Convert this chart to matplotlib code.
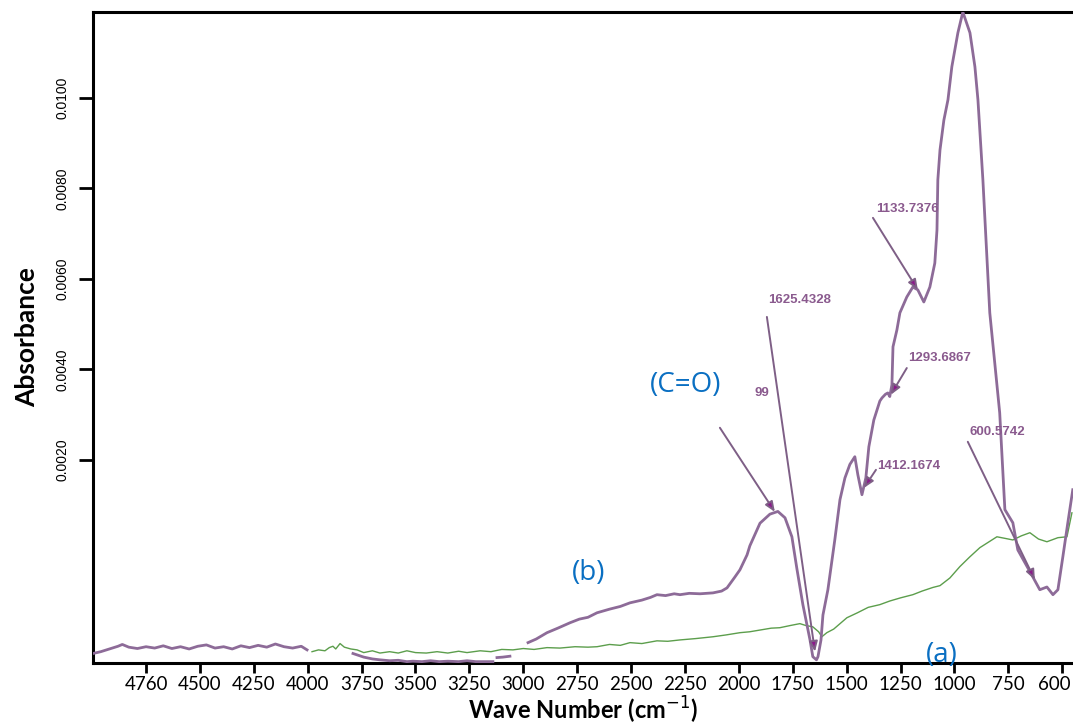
import numpy as np
import matplotlib
matplotlib.use("Agg")
import matplotlib.pyplot as plt
from matplotlib.transforms import ScaledTranslation

# spectrum (b): wave number (cm-1) / absorbance, NaN marks breaks in the trace
b_wave = [4996, 4960, 4920, 4880, 4860, 4830, 4790, 4750, 4710, 4670, 4630, 4590, 4550,
          4510, 4470, 4430, 4390, 4350, 4310, 4270, 4230, 4190, 4150, 4110, 4070, 4030, 4003,
          np.nan,
          3790, 3771, 3740, 3700, 3665, 3620, 3580, 3540, 3512, 3470, 3430, 3390, 3350, 3300,
          3261, 3220, 3180, 3141,
          np.nan,
          3122, 3095, 3062,
          np.nan,
          2978, 2940, 2890, 2840, 2783, 2740, 2700, 2658, 2600, 2550, 2505, 2450, 2410, 2380,
          2340, 2300, 2273, 2230, 2180, 2120, 2080, 2055, 2020, 1995, 1962, 1949, 1902, 1856,
          1819, 1786, 1754, 1731, 1703, 1670, 1657, 1640, 1633, 1619, 1610, 1587, 1555, 1531,
          1508, 1485, 1462, 1448, 1429, 1411, 1397, 1374, 1346, 1336, 1320, 1309, 1300, 1290,
          1285, 1267, 1253, 1221, 1193, 1170, 1142, 1114, 1091, 1081, 1077, 1067, 1049, 1030,
          1012, 984, 961, 928, 905, 891, 868, 836, 790, 766, 729, 706, 636, 604, 571, 543,
          520, 497, 474, 451]
b_abs = [-0.00228, -0.00224, -0.00218, -0.00212, -0.00208, -0.00214, -0.00217, -0.00213,
         -0.00216, -0.00211, -0.00217, -0.00213, -0.00218, -0.00212, -0.00209, -0.00216,
         -0.00213, -0.00218, -0.00211, -0.00215, -0.00210, -0.00214, -0.00207, -0.00213,
         -0.00216, -0.00212, -0.00220,
         np.nan,
         -0.00228, -0.00231, -0.00236, -0.00240, -0.00242, -0.00244, -0.00243, -0.00246,
         -0.00245, -0.00246, -0.00244, -0.00246, -0.00245, -0.00246, -0.00244, -0.00246,
         -0.00246, -0.00246,
         np.nan,
         -0.00237, -0.00236, -0.00234,
         np.nan,
         -0.00204, -0.00196, -0.00182, -0.00172, -0.00160, -0.00152, -0.00148, -0.00138,
         -0.00130, -0.00124, -0.00116, -0.00110, -0.00104, -0.00098, -0.00100, -0.00096,
         -0.00098, -0.00095, -0.00096, -0.00094, -0.00090, -0.00083, -0.00060, -0.00043,
         -0.00010, 0.00010, 0.00060, 0.00080, 0.00086, 0.00072, 0.00030, -0.00040, -0.00120,
         -0.00198, -0.00235, -0.00242, -0.00235, -0.00198, -0.00143, -0.00087, 0.00023,
         0.00112, 0.00160, 0.00190, 0.00207, 0.00167, 0.00123, 0.00160, 0.00229, 0.00288,
         0.00330, 0.00337, 0.00345, 0.00348, 0.00340, 0.00366, 0.00450, 0.00487, 0.00525,
         0.00560, 0.00582, 0.00576, 0.00549, 0.00582, 0.00635, 0.00708, 0.00819, 0.00885,
         0.00951, 0.00996, 0.01069, 0.01144, 0.01190, 0.01144, 0.01069, 0.00996, 0.00819,
         0.00525, 0.00304, 0.00090, 0.00061, 0.00001, -0.00059, -0.00087, -0.00081,
         -0.00098, -0.00087, -0.00014, 0.00061, 0.00134]

# spectrum (a)
a_wave = [3980, 3950, 3920, 3900, 3883, 3870, 3850, 3830, 3800, 3771, 3740, 3700, 3665,
          3620, 3580, 3540, 3500, 3450, 3400, 3350, 3300, 3261, 3200, 3150, 3100, 3048,
          3000, 2950, 2890, 2830, 2760, 2700, 2658, 2600, 2550, 2505, 2450, 2380, 2330,
          2273, 2200, 2120, 2060, 1995, 1950, 1900, 1850, 1810, 1760, 1717, 1690, 1657,
          1630, 1615, 1592, 1560, 1499, 1450, 1400, 1346, 1300, 1250, 1193, 1150, 1100,
          1067, 1021, 975, 930, 882, 803, 760, 729, 690, 650, 610, 571, 520, 478, 455]
a_abs = [-0.00224, -0.00220, -0.00222, -0.00215, -0.00212, -0.00218, -0.00206, -0.00214,
         -0.00218, -0.00220, -0.00226, -0.00222, -0.00227, -0.00224, -0.00227, -0.00222,
         -0.00226, -0.00227, -0.00224, -0.00227, -0.00223, -0.00226, -0.00222, -0.00224,
         -0.00219, -0.00220, -0.00217, -0.00219, -0.00215, -0.00216, -0.00213, -0.00214,
         -0.00213, -0.00208, -0.00210, -0.00204, -0.00206, -0.00200, -0.00201, -0.00198,
         -0.00195, -0.00191, -0.00187, -0.00182, -0.00180, -0.00176, -0.00172, -0.00171,
         -0.00166, -0.00162, -0.00166, -0.00169, -0.00180, -0.00191, -0.00182, -0.00174,
         -0.00149, -0.00138, -0.00126, -0.00120, -0.00112, -0.00105, -0.00098, -0.00090,
         -0.00082, -0.00078, -0.00061, -0.00036, -0.00015, 0.00006, 0.00030, 0.00026,
         0.00023, 0.00032, 0.00039, 0.00025, 0.00019, 0.00028, 0.00030, 0.00083]

# axis ticks (the published axis labels are not linear at both ends)
x_ticks = [4750, 4500, 4250, 4000, 3750, 3500, 3250, 3000, 2750, 2500, 2250, 2000,
           1750, 1500, 1250, 1000, 750, 500]
x_tick_labels = ["4760", "4500", "4250", "4000", "3750", "3500", "3250", "3000", "2750",
                 "2500", "2250", "2000", "1750", "1500", "1250", "1000", "750", "600"]
y_ticks = [0.0020, 0.0040, 0.0060, 0.0080, 0.0100]
y_tick_labels = ["0.0020", "0.0040", "0.0060", "0.0080", "0.0100"]

# peak labels: text, text position, arrow start, arrow tip
peak_labels = ["1625.4328", "1133.7376", "1293.6867", "1412.1674", "600.5742", "99"]
peak_text_xy = [(1720, 0.00554), (1218, 0.00755), (1068, 0.00425), (1210, 0.00187),
                (800, 0.00262), (1893, 0.00348)]
peak_arrow_from = [(1870, 0.00516), (1378, 0.00735), (1221, 0.00403), (1364, 0.00178),
                   (938, 0.00240), (2088, 0.00271)]
peak_arrow_to = [(1647, -0.00224), (1170, 0.00576), (1295, 0.00344), (1420, 0.00138),
                 (627, -0.00065), (1833, 0.00085)]

PURPLE = "#8d6b98"
GREEN = "#5c9e4c"
BLUE = "#0a6fc2"
LABEL = "#8a5a8e"

fig = plt.figure(figsize=(10.73, 7.25), dpi=100)
ax = fig.add_axes([93 / 1073, 62 / 725, 980 / 1073, 651 / 725])

ax.plot(b_wave, b_abs, color=PURPLE, lw=2.0, zorder=3)
ax.plot(a_wave, a_abs, color=GREEN, lw=1.0, zorder=2)

for text, txy, p0, p1 in zip(peak_labels, peak_text_xy, peak_arrow_from, peak_arrow_to):
    ax.text(txy[0], txy[1], text, color=LABEL, fontsize=9.5, fontweight="bold",
            family="Liberation Sans", ha="center", va="center")
    ax.annotate("", xy=p1, xytext=p0,
                arrowprops=dict(arrowstyle="-|>,head_length=0.6,head_width=0.25",
                                color="#7e5f86", lw=1.4, fc="#8b1a8b", shrinkA=0, shrinkB=0))

ax.text(2246, 0.00366, "(C=O)", color=BLUE, fontsize=20, ha="center", va="center",
        family="Open Sans")
ax.text(2695, -0.00050, "(b)", color=BLUE, fontsize=20, ha="center", va="center",
        family="Open Sans")
ax.text(1058, -0.00231, "(a)", color=BLUE, fontsize=20, ha="center", va="center",
        family="Open Sans")

ax.set_xlim(4996, 450)
ax.set_ylim(-0.00249, 0.0119)
ax.set_xticks(x_ticks)
ax.set_xticklabels(x_tick_labels, fontsize=13.5, family="Lato")
ax.set_yticks(y_ticks)
ax.set_yticklabels(y_tick_labels, fontsize=10, family="Liberation Sans", rotation=90,
                   va="center")
ax.tick_params(axis="x", direction="out", length=7, width=2, pad=2)
ax.tick_params(axis="y", direction="out", length=10, width=2, pad=7)

# nudge the last x label so it stays inside the cropped right edge
last = ax.get_xticklabels()[-1]
last.set_transform(last.get_transform() + ScaledTranslation(-6 / 72, 0, fig.dpi_scale_trans))

for side in ["left", "bottom", "top"]:
    ax.spines[side].set_linewidth(2.2)
ax.spines["right"].set_visible(False)

ax.set_xlabel("Wave Number (cm$^{-1}$)", fontsize=17, fontweight="bold", family="Lato",
              labelpad=2)
ax.set_ylabel("Absorbance", fontsize=19, fontweight="bold", family="Lato", labelpad=12)

fig.savefig("out.png", dpi=100)
